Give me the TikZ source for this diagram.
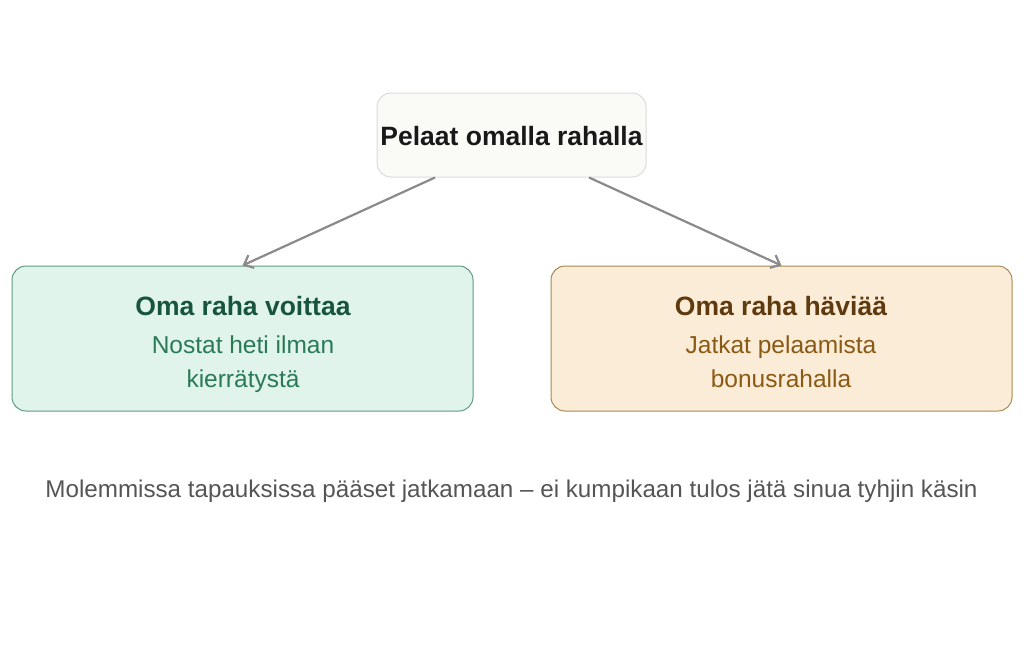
\documentclass[tikz,border=0pt]{standalone}
\usepackage{fontspec}
\setmainfont{Liberation Sans}
\usetikzlibrary{arrows.meta,calc}
\definecolor{topfill}{HTML}{FAFAF7}
\definecolor{topdraw}{HTML}{DCDCDC}
\definecolor{gfill}{HTML}{E0F4EC}
\definecolor{gdraw}{HTML}{5E9C82}
\definecolor{gtitle}{HTML}{17553E}
\definecolor{gsub}{HTML}{2A7A58}
\definecolor{ofill}{HTML}{FBECD8}
\definecolor{odraw}{HTML}{A8894F}
\definecolor{otitle}{HTML}{5E3A0E}
\definecolor{osub}{HTML}{8A5A14}
\definecolor{arrowc}{HTML}{8A8A8A}
\definecolor{notec}{HTML}{555555}
\tikzset{
  box/.style={rounded corners=14pt, line width=1pt, inner sep=0pt},
  titletext/.style={font=\fontsize{26.5}{30}\selectfont\bfseries, anchor=base, inner sep=0pt},
  subtext/.style={font=\fontsize{24.5}{28}\selectfont, anchor=base, inner sep=0pt},
  conn/.style={draw=arrowc, line width=2.2pt, -{Straight Barb[length=8pt,width=14pt,line width=2.2pt]}}
}
\begin{document}
\begin{tikzpicture}[x=1pt,y=-1pt]
\useasboundingbox[fill=white] (0,0) rectangle (1024,657);
\node[box, draw=topdraw, fill=topfill, minimum width=269pt, minimum height=84pt] (top) at (511.5,135) {};
\node[titletext, text=black!90] (toptext) at (511.5,145) {Pelaat omalla rahalla};
\node[box, draw=gdraw, fill=gfill, minimum width=461pt, minimum height=145pt] (left) at (242.5,338.5) {};
\node[titletext, text=gtitle] (lt) at (243,315) {Oma raha voittaa};
\node[subtext, text=gsub] (ls1) at (243,353) {Nostat heti ilman};
\node[subtext, text=gsub] (ls2) at (243,387) {kierrätystä};
\node[box, draw=odraw, fill=ofill, minimum width=461pt, minimum height=145pt] (right) at (781.5,338.5) {};
\node[titletext, text=otitle] (rt) at (781,315) {Oma raha häviää};
\node[subtext, text=osub] (rs1) at (781,353) {Jatkat pelaamista};
\node[subtext, text=osub] (rs2) at (781,387) {bonusrahalla};
\draw[conn] ($(top.south)+(-76.5,0)$) -- (left.north);
\draw[conn] ($(top.south)+(77.5,0)$) -- (right.north);
\node[font=\fontsize{24.2}{28}\selectfont, text=notec, anchor=base, inner sep=0pt] (note) at (511.5,497) {Molemmissa tapauksissa pääset jatkamaan – ei kumpikaan tulos jätä sinua tyhjin käsin};
\end{tikzpicture}
\end{document}
